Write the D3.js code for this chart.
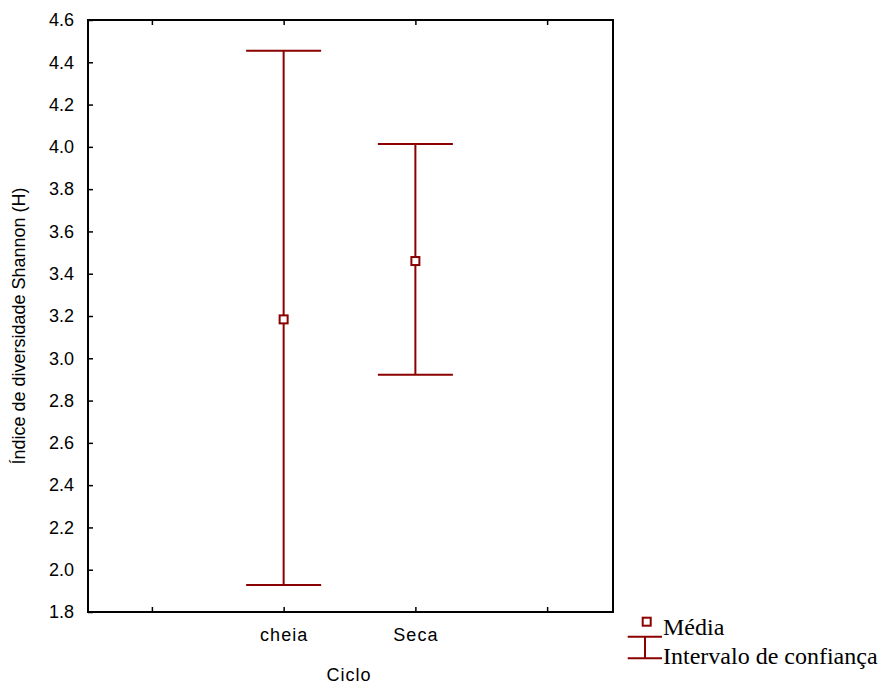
<!DOCTYPE html>
<html>
<head>
<meta charset="utf-8">
<script src="https://cdn.jsdelivr.net/npm/d3@7"></script>
<style>
  body { margin: 0; background: #fff; }
  svg { display: block; }
</style>
</head>
<body>
<svg id="chart" width="886" height="686"></svg>
<script>
// Shannon diversity by hydrological cycle: mean and confidence interval
const categories = ["cheia", "Seca"];
const categoryPos = [2, 3];
const means = [3.184, 3.46];
const lower = [1.928, 2.922];
const upper = [4.455, 4.014];
const yTicks = [1.8, 2.0, 2.2, 2.4, 2.6, 2.8, 3.0, 3.2, 3.4, 3.6, 3.8, 4.0, 4.2, 4.4, 4.6];
const xTicks = [1, 2, 3, 4];

const color = "#8b0000";
const sans = "Liberation Sans, Arial, Helvetica, sans-serif";
const serif = "Liberation Serif, Times New Roman, serif";
const svg = d3.select("#chart");
const plot = { left: 88, right: 613, top: 20, bottom: 612 };

const x = d3.scaleLinear().domain([0.515, 4.5]).range([plot.left, plot.right]);
const y = d3.scaleLinear().domain([1.8, 4.6]).range([plot.bottom, plot.top]);

// frame
svg.append("rect")
  .attr("x", plot.left).attr("y", plot.top)
  .attr("width", plot.right - plot.left).attr("height", plot.bottom - plot.top)
  .attr("fill", "none").attr("stroke", "#000").attr("stroke-width", 2);

// y axis (ticks inward)
const yAxis = d3.axisLeft(y).tickValues(yTicks).tickFormat(d3.format(".1f")).tickSize(-5).tickPadding(14);
const gy = svg.append("g").attr("transform", `translate(${plot.left},0)`).call(yAxis);
gy.select(".domain").remove();
gy.selectAll("line").attr("stroke", "#000").attr("stroke-width", 1.5);
gy.selectAll("text").attr("font-family", sans).attr("font-size", 18).attr("fill", "#000");

// x axis bottom (ticks inward)
const labelFor = d => { const i = categoryPos.indexOf(d); return i >= 0 ? categories[i] : ""; };
const xAxis = d3.axisBottom(x).tickValues(xTicks).tickFormat(labelFor).tickSize(-5).tickPadding(16);
const gx = svg.append("g").attr("transform", `translate(0,${plot.bottom})`).call(xAxis);
gx.select(".domain").remove();
gx.selectAll("line").attr("stroke", "#000").attr("stroke-width", 1.5);
gx.selectAll("text").attr("font-family", sans).attr("font-size", 18).attr("letter-spacing", 1).attr("fill", "#000");

// top ticks
const gt = svg.append("g").attr("transform", `translate(0,${plot.top})`)
  .call(d3.axisTop(x).tickValues(xTicks).tickFormat("").tickSize(-5));
gt.select(".domain").remove();
gt.selectAll("line").attr("stroke", "#000").attr("stroke-width", 1.5);

// axis titles
svg.append("text")
  .attr("x", 349).attr("y", 681)
  .attr("text-anchor", "middle")
  .attr("font-family", sans).attr("font-size", 18).attr("letter-spacing", 1)
  .text("Ciclo");
svg.append("text")
  .attr("transform", `translate(25,326) rotate(-90)`)
  .attr("text-anchor", "middle")
  .attr("font-family", sans).attr("font-size", 18)
  .text("Índice de diversidade Shannon (H)");

// error bars
const capHalf = 37.5;
const g = svg.append("g");
categories.forEach((c, i) => {
  const cx = x(categoryPos[i]);
  g.append("line").attr("x1", cx).attr("x2", cx).attr("y1", y(upper[i])).attr("y2", y(lower[i]))
    .attr("stroke", color).attr("stroke-width", 2);
  [upper[i], lower[i]].forEach(v => {
    g.append("line").attr("x1", cx - capHalf).attr("x2", cx + capHalf).attr("y1", y(v)).attr("y2", y(v))
      .attr("stroke", color).attr("stroke-width", 2);
  });
  g.append("rect").attr("x", cx - 4).attr("y", y(means[i]) - 4).attr("width", 8).attr("height", 8)
    .attr("fill", "#fff").attr("stroke", color).attr("stroke-width", 2);
});

// legend
const lg = svg.append("g");
lg.append("rect").attr("x", 642.7).attr("y", 617.7).attr("width", 8).attr("height", 8)
  .attr("fill", "#fff").attr("stroke", color).attr("stroke-width", 2);
lg.append("text").attr("x", 663).attr("y", 635)
  .attr("font-family", serif).attr("font-size", 24).text("Média");
lg.append("line").attr("x1", 627.7).attr("x2", 662).attr("y1", 636.7).attr("y2", 636.7).attr("stroke", color).attr("stroke-width", 2);
lg.append("line").attr("x1", 645).attr("x2", 645).attr("y1", 636.7).attr("y2", 658.3).attr("stroke", color).attr("stroke-width", 2);
lg.append("line").attr("x1", 627.7).attr("x2", 662).attr("y1", 658.3).attr("y2", 658.3).attr("stroke", color).attr("stroke-width", 2);
lg.append("text").attr("x", 663).attr("y", 664)
  .attr("font-family", serif).attr("font-size", 24).text("Intervalo de confiança");
</script>
</body>
</html>
